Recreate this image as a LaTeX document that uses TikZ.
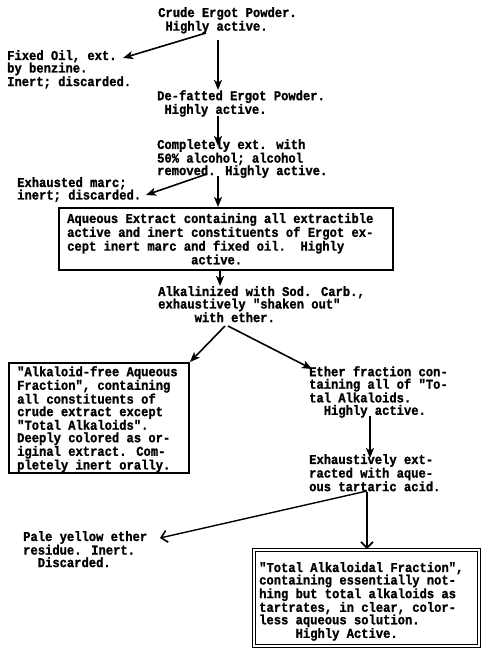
\documentclass[tikz,border=0pt]{standalone}
\usepackage{fontspec}
\newfontfamily\tw{Liberation Mono}[FakeStretch=0.9, BoldFeatures={FakeBold=1.2}]
\usetikzlibrary{arrows.meta}
\begin{document}
\begin{tikzpicture}[x=1pt,y=-1pt,
  tt/.style={font=\tw\bfseries\fontsize{13.5}{12.5}\selectfont, inner sep=0pt, anchor=north west, align=left},
  boxline/.style={draw, line width=1.8pt, inner sep=0pt, anchor=north west},
  arr/.style={line width=1.6pt, -{Stealth[length=10pt,width=8pt,inset=2.5pt]}},
  arrv/.style={line width=1.4pt, -{Straight Barb[length=6pt,width=12pt,line width=1.6pt]}}]
\fill[white] (0,0) rectangle (483,648);
\useasboundingbox (0,0) rectangle (483,648);

% boxes
\node[boxline, minimum width=334pt, minimum height=62pt] (aqbox) at (58,207) {};
\node[boxline, line width=2pt, minimum width=180pt, minimum height=110pt] (afreebox) at (8,362) {};
\node[boxline, double, double distance=2pt, line width=1pt, minimum width=225pt, minimum height=96pt] (totalbox) at (253,549) {};

% texts
\node[tt] (crude) at (158,7) {Crude Ergot Powder.\\\hphantom{X}Highly active.};
\node[tt] (fixed) at (7,50) {Fixed Oil, ext.\\by benzine.\\Inert; discarded.};
\node[tt] (defat) at (157,90) {De-fatted Ergot Powder.\\\hphantom{X}Highly active.};
\node[tt] (compl) at (157,139) {Completely ext. with\\50\% alcohol; alcohol\\removed. Highly active.};
\node[tt] (exh) at (17,177) {Exhausted marc;\\inert; discarded.};
\node[tt] (aq) at (67,213) {Aqueous Extract containing all extractible\\active and inert constituents of Ergot ex-\\cept inert marc and fixed oil.\ \ Highly\\\hphantom{XXXXXXXXXXXXXXXXX}active.};
\node[tt] (alk) at (158,286) {Alkalinized with Sod. Carb.,\\exhaustively "shaken out"\\\hphantom{XXXXX}with ether.};
\node[tt] (afree) at (17,366) {"Alkaloid-free Aqueous\\Fraction", containing\\all constituents of\\crude extract except\\"Total Alkaloids".\\Deeply colored as or-\\iginal extract. Com-\\pletely inert orally.};
\node[tt] (ether) at (309,366) {Ether fraction con-\\taining all of "To-\\tal Alkaloids.\\\hphantom{XX}Highly active.};
\node[tt] (exhaust) at (309,454) {Exhaustively ext-\\racted with aque-\\ous tartaric acid.};
\node[tt] (pale) at (23,531) {Pale yellow ether\\residue. Inert.\\\hphantom{XX}Discarded.};
\node[tt] (total) at (259,562) {"Total Alkaloidal Fraction",\\containing essentially not-\\hing but total alkaloids as\\tartrates, in clear, color-\\less aqueous solution.\\\hphantom{XXXXX}Highly Active.};

% connector ends
\coordinate (s1) at (218,40);
\coordinate (s2) at (206,33);
\coordinate (t2) at (123,58);
\coordinate (s3) at (218,116);
\coordinate (t3) at (218,146);
\coordinate (s4) at (207,174);
\coordinate (t4) at (146,195);
\coordinate (s5) at (218,176);
\coordinate (s6) at (220,271);
\coordinate (s7) at (225,326);
\coordinate (s8) at (228,326);
\coordinate (t8) at (312,369);
\coordinate (s9) at (370,416);
\coordinate (t9) at (370,458);
\coordinate (s10) at (367,491);
\coordinate (t10) at (160,538);
\coordinate (s11) at (367,492);

\draw[arr] (s1) -- (s1 |- defat.north);
\draw[arr] (s2) -- (t2);
\draw[arr] (s3) -- (t3);
\draw[arr] (s4) -- (t4);
\draw[arr] (s5) -- (s5 |- aqbox.north);
\draw[arr] (s6) -- (s6 |- alk.north);
\draw[arr] (s7) -- (afreebox.north east);
\draw[arr] (s8) -- (t8);
\draw[arr] (s9) -- (t9);
\draw[arrv] (s10) -- (t10);
\draw[arrv] (s11) -- (s11 |- totalbox.north);
\end{tikzpicture}
\end{document}
